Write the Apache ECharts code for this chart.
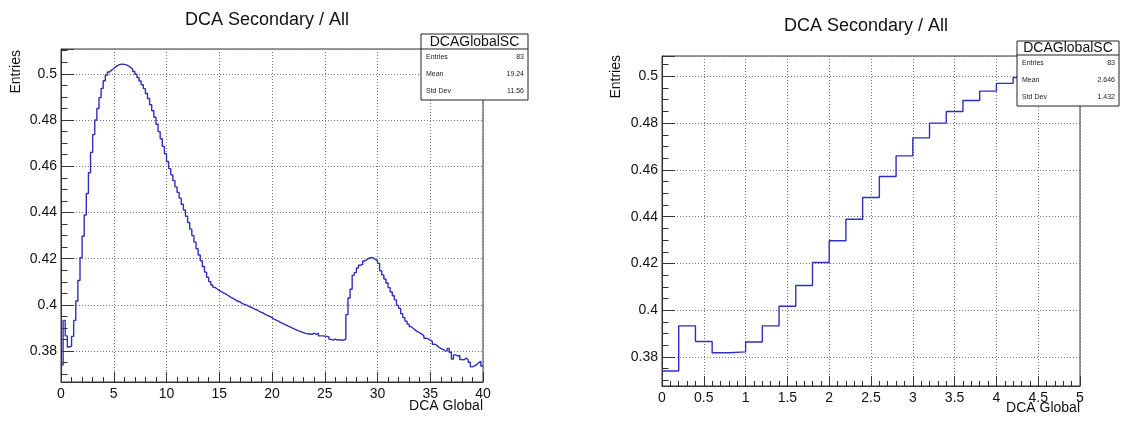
<!DOCTYPE html>
<html><head><meta charset="utf-8">
<script src="https://cdn.jsdelivr.net/npm/echarts@6/dist/echarts.min.js"></script>
<style>html,body{margin:0;padding:0;background:#fff}#c{width:1121px;height:428px}</style>
</head><body><div id="c"></div>
<script>
// ---- data ----
const chartTitle = 'DCA Secondary / All';
const xAxisTitle = 'DCA Global';
const yAxisTitle = 'Entries';
const histName = 'DCAGlobalSC';
const binStart = 0;
const binWidth = 0.2;
// bin contents, 200 bins of width 0.2 from 0 to 40
const binValues = [
  0.3740, 0.3933, 0.3866, 0.3818, 0.3822, 0.3864, 0.3933, 0.4017, 0.4106, 0.4204,
  0.4297, 0.4389, 0.4482, 0.4572, 0.4660, 0.4737, 0.4800, 0.4850, 0.4897, 0.4937,
  0.4970, 0.4995, 0.5008, 0.5016, 0.5023, 0.5031, 0.5037, 0.5041, 0.5042, 0.5041,
  0.5039, 0.5034, 0.5028, 0.5020, 0.5010, 0.4998, 0.4984, 0.4969, 0.4953, 0.4936,
  0.4915, 0.4893, 0.4866, 0.4840, 0.4812, 0.4782, 0.4750, 0.4719, 0.4686, 0.4654,
  0.4621, 0.4590, 0.4563, 0.4538, 0.4511, 0.4487, 0.4462, 0.4436, 0.4411, 0.4384,
  0.4357, 0.4328, 0.4300, 0.4272, 0.4243, 0.4216, 0.4191, 0.4166, 0.4142, 0.4120,
  0.4101, 0.4086, 0.4076, 0.4069, 0.4063, 0.4058, 0.4052, 0.4048, 0.4042, 0.4036,
  0.4031, 0.4026, 0.4020, 0.4016, 0.4012, 0.4006, 0.4002, 0.3999, 0.3994, 0.3990,
  0.3986, 0.3981, 0.3978, 0.3972, 0.3968, 0.3964, 0.3958, 0.3954, 0.3950, 0.3945,
  0.3939, 0.3934, 0.3930, 0.3925, 0.3920, 0.3916, 0.3912, 0.3907, 0.3903, 0.3899,
  0.3894, 0.3890, 0.3887, 0.3883, 0.3880, 0.3877, 0.3875, 0.3874, 0.3873, 0.3878,
  0.3872, 0.3878, 0.3866, 0.3866, 0.3865, 0.3864, 0.3862, 0.3851, 0.3848, 0.3852,
  0.3848, 0.3850, 0.3847, 0.3848, 0.3852, 0.3958, 0.4030, 0.4068, 0.4128, 0.4140,
  0.4160, 0.4172, 0.4176, 0.4190, 0.4196, 0.4202, 0.4205, 0.4203, 0.4197, 0.4190,
  0.4180, 0.4148, 0.4130, 0.4112, 0.4095, 0.4075, 0.4056, 0.4040, 0.4022, 0.3998,
  0.3985, 0.3962, 0.3945, 0.3930, 0.3917, 0.3906, 0.3898, 0.3890, 0.3884, 0.3879,
  0.3874, 0.3866, 0.3856, 0.3853, 0.3848, 0.3842, 0.3830, 0.3826, 0.3818, 0.3812,
  0.3808, 0.3801, 0.3800, 0.3812, 0.3795, 0.3766, 0.3784, 0.3779, 0.3782, 0.3764,
  0.3762, 0.3770, 0.3762, 0.3752, 0.3732, 0.3736, 0.3742, 0.3750, 0.3756, 0.3736
];
const leftXRange = [0, 40];
const leftYRange = [0.36665, 0.51075];
const rightXRange = [0, 5];
const rightYRange = [0.3676, 0.5087];
const statLabels = ['Entries', 'Mean', 'Std Dev'];
const statsLeft = ['83', '19.24', '11.56'];
const statsRight = ['83', '2.646', '1.432'];

// ---- build step data from bins ----
const stepData = binValues.map((v, i) => [binStart + i * binWidth, v]);
stepData.push([binStart + binValues.length * binWidth, binValues[binValues.length - 1]]);

const FONT = '"Liberation Sans", Arial, Helvetica, sans-serif';
const lineColor = '#2f2fc0';

function xAxisCfg(idx, range, interval) {
  return {
    gridIndex: idx, type: 'value', min: range[0], max: range[1], interval: interval,
    axisLine: { show: true, onZero: false, lineStyle: { color: '#333', width: 1 } },
    axisTick: { show: true, inside: true, length: 10, lineStyle: { color: '#333' } },
    minorTick: { show: true, splitNumber: 5, length: 5, lineStyle: { color: '#333' } },
    splitLine: { show: true, lineStyle: { color: '#777', type: [1, 2], width: 1 } },
    axisLabel: { fontFamily: FONT, fontSize: 14, color: '#111', margin: 5 }
  };
}
function yAxisCfg(idx, range) {
  return {
    gridIndex: idx, type: 'value', min: range[0], max: range[1], splitNumber: 7,
    axisLine: { show: true, onZero: false, lineStyle: { color: '#333', width: 1 } },
    axisTick: { show: true, inside: true, length: 13, lineStyle: { color: '#333' } },
    minorTick: { show: true, splitNumber: 4, length: 6.5, lineStyle: { color: '#333' } },
    splitLine: { show: true, lineStyle: { color: '#777', type: [1, 2], width: 1 } },
    axisLabel: { fontFamily: FONT, fontSize: 14, color: '#111', margin: 4,
                 showMinLabel: false, showMaxLabel: false }
  };
}

function statsBox(x, y, w, h, titleH, vals) {
  const els = [
    { type: 'rect', shape: { x: x, y: y, width: w, height: h },
      style: { fill: '#fff', stroke: '#222', lineWidth: 1 }, z: 100 },
    { type: 'line', shape: { x1: x, y1: y + titleH, x2: x + w, y2: y + titleH },
      style: { stroke: '#222', lineWidth: 1 }, z: 101 },
    { type: 'text', x: x + w / 2, y: y + titleH / 2 + 0.5, z: 102,
      style: { text: histName, fontFamily: FONT, fontSize: 14, fill: '#111',
               align: 'center', verticalAlign: 'middle' } }
  ];
  const rowH = (h - titleH) / 3;
  statLabels.forEach((lab, i) => {
    const cy = y + titleH + rowH * (i + 0.5);
    els.push({ type: 'text', x: x + 5, y: cy, z: 102,
      style: { text: lab, fontFamily: FONT, fontSize: 7, fill: '#222', align: 'left', verticalAlign: 'middle' } });
    els.push({ type: 'text', x: x + w - 4, y: cy, z: 102,
      style: { text: vals[i], fontFamily: FONT, fontSize: 7, fill: '#222', align: 'right', verticalAlign: 'middle' } });
  });
  return els;
}

const graphics = [
  { type: 'text', x: 267, y: 20, style: { text: chartTitle, fontFamily: FONT, fontSize: 18, fill: '#111', align: 'center', verticalAlign: 'middle' } },
  { type: 'text', x: 866, y: 26, style: { text: chartTitle, fontFamily: FONT, fontSize: 18, fill: '#111', align: 'center', verticalAlign: 'middle' } },
  { type: 'text', x: 483, y: 406, style: { text: xAxisTitle, fontFamily: FONT, fontSize: 14, fill: '#111', align: 'right', verticalAlign: 'middle' } },
  { type: 'text', x: 1080, y: 408, style: { text: xAxisTitle, fontFamily: FONT, fontSize: 14, fill: '#111', align: 'right', verticalAlign: 'middle' } },
  { type: 'text', x: 16, y: 50, rotation: Math.PI / 2, style: { text: yAxisTitle, fontFamily: FONT, fontSize: 14, fill: '#111', align: 'right', verticalAlign: 'middle' } },
  { type: 'text', x: 616, y: 55, rotation: Math.PI / 2, style: { text: yAxisTitle, fontFamily: FONT, fontSize: 14, fill: '#111', align: 'right', verticalAlign: 'middle' } }
].concat(statsBox(421, 34, 107, 66, 15, statsLeft))
 .concat(statsBox(1017, 41, 102, 65, 14, statsRight));

const chart = echarts.init(document.getElementById('c'), null, { renderer: 'canvas' });
chart.setOption({
  animation: false,
  backgroundColor: '#fff',
  grid: [
    { left: 61, top: 49, width: 422, height: 333, show: true, borderColor: '#333', borderWidth: 1, backgroundColor: 'transparent' },
    { left: 662, top: 56, width: 418, height: 330, show: true, borderColor: '#333', borderWidth: 1, backgroundColor: 'transparent' }
  ],
  xAxis: [xAxisCfg(0, leftXRange, 5), xAxisCfg(1, rightXRange, 0.5)],
  yAxis: [yAxisCfg(0, leftYRange), yAxisCfg(1, rightYRange)],
  series: [
    { type: 'line', xAxisIndex: 0, yAxisIndex: 0, data: stepData, step: 'end', showSymbol: false, symbol: 'none', clip: true,
      lineStyle: { color: lineColor, width: 1.4 } },
    { type: 'line', xAxisIndex: 1, yAxisIndex: 1, data: stepData, step: 'end', showSymbol: false, symbol: 'none', clip: true,
      lineStyle: { color: lineColor, width: 1.4 } }
  ],
  graphic: graphics
});
</script>
</body></html>
